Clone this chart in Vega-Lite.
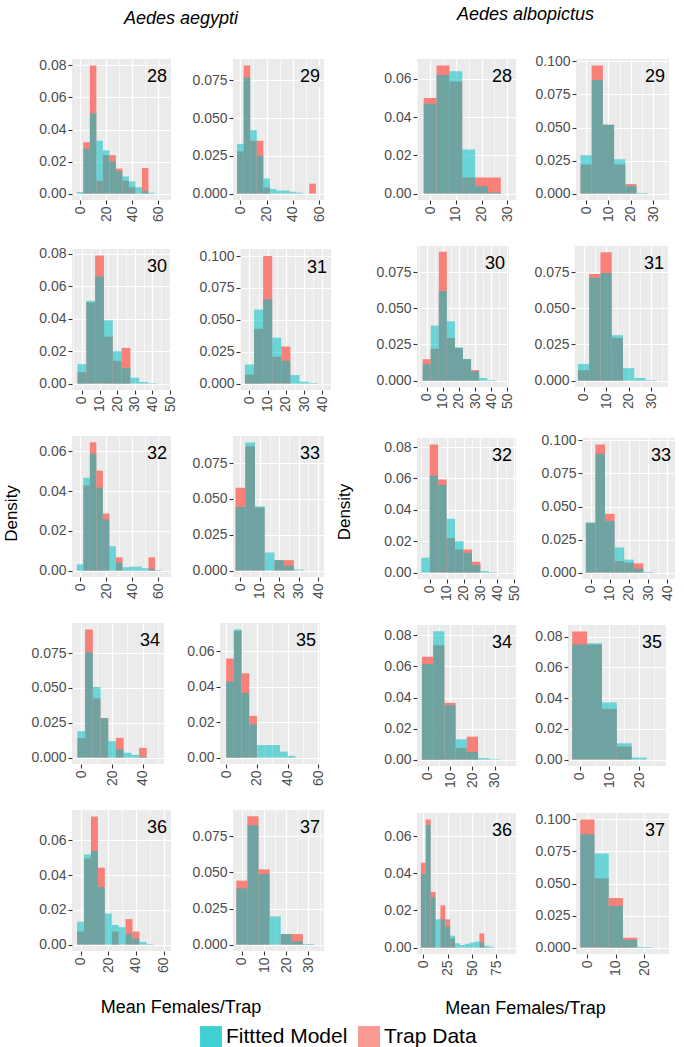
{
"$schema": "https://vega.github.io/schema/vega-lite/v6.json",
"background": "white",
"padding": {"top": 6, "left": 2, "right": 1, "bottom": 4},
"data": {"values": [
{"sp":"a","p":28,"x0":-2.5,"x1":2.5,"Fittted Model":0.001,"Trap Data":0},
{"sp":"a","p":28,"x0":2.5,"x1":7.5,"Fittted Model":0.028,"Trap Data":0.032},
{"sp":"a","p":28,"x0":7.5,"x1":12.5,"Fittted Model":0.05,"Trap Data":0.08},
{"sp":"a","p":28,"x0":12.5,"x1":17.5,"Fittted Model":0.033,"Trap Data":0.008},
{"sp":"a","p":28,"x0":17.5,"x1":22.5,"Fittted Model":0.027,"Trap Data":0.024},
{"sp":"a","p":28,"x0":22.5,"x1":27.5,"Fittted Model":0.02,"Trap Data":0.024},
{"sp":"a","p":28,"x0":27.5,"x1":32.5,"Fittted Model":0.014,"Trap Data":0.0156},
{"sp":"a","p":28,"x0":32.5,"x1":37.5,"Fittted Model":0.0107,"Trap Data":0.008},
{"sp":"a","p":28,"x0":37.5,"x1":42.5,"Fittted Model":0.0076,"Trap Data":0.004},
{"sp":"a","p":28,"x0":42.5,"x1":47.5,"Fittted Model":0.004,"Trap Data":0},
{"sp":"a","p":28,"x0":47.5,"x1":52.5,"Fittted Model":0.0015,"Trap Data":0.016},
{"sp":"a","p":28,"x0":52.5,"x1":57.5,"Fittted Model":0.0005,"Trap Data":0},
{"sp":"a","p":29,"x0":-2.5,"x1":2.5,"Fittted Model":0.033,"Trap Data":0.028},
{"sp":"a","p":29,"x0":2.5,"x1":7.5,"Fittted Model":0.077,"Trap Data":0.085},
{"sp":"a","p":29,"x0":7.5,"x1":12.5,"Fittted Model":0.042,"Trap Data":0.035},
{"sp":"a","p":29,"x0":12.5,"x1":17.5,"Fittted Model":0.025,"Trap Data":0.035},
{"sp":"a","p":29,"x0":17.5,"x1":22.5,"Fittted Model":0.01,"Trap Data":0.004},
{"sp":"a","p":29,"x0":22.5,"x1":27.5,"Fittted Model":0.003,"Trap Data":0},
{"sp":"a","p":29,"x0":27.5,"x1":32.5,"Fittted Model":0.002,"Trap Data":0},
{"sp":"a","p":29,"x0":32.5,"x1":37.5,"Fittted Model":0.002,"Trap Data":0},
{"sp":"a","p":29,"x0":37.5,"x1":42.5,"Fittted Model":0.0013,"Trap Data":0},
{"sp":"a","p":29,"x0":42.5,"x1":47.5,"Fittted Model":0.0005,"Trap Data":0},
{"sp":"a","p":29,"x0":52.5,"x1":57.5,"Fittted Model":0,"Trap Data":0.0066},
{"sp":"a","p":30,"x0":-2.5,"x1":2.5,"Fittted Model":0.012,"Trap Data":0.007},
{"sp":"a","p":30,"x0":2.5,"x1":7.5,"Fittted Model":0.051,"Trap Data":0.05},
{"sp":"a","p":30,"x0":7.5,"x1":12.5,"Fittted Model":0.066,"Trap Data":0.079},
{"sp":"a","p":30,"x0":12.5,"x1":17.5,"Fittted Model":0.039,"Trap Data":0.029},
{"sp":"a","p":30,"x0":17.5,"x1":22.5,"Fittted Model":0.02,"Trap Data":0.014},
{"sp":"a","p":30,"x0":22.5,"x1":27.5,"Fittted Model":0.0095,"Trap Data":0.022},
{"sp":"a","p":30,"x0":27.5,"x1":32.5,"Fittted Model":0.0036,"Trap Data":0},
{"sp":"a","p":30,"x0":32.5,"x1":37.5,"Fittted Model":0.001,"Trap Data":0},
{"sp":"a","p":30,"x0":37.5,"x1":42.5,"Fittted Model":0.0003,"Trap Data":0},
{"sp":"a","p":31,"x0":-2.5,"x1":2.5,"Fittted Model":0.015,"Trap Data":0.007},
{"sp":"a","p":31,"x0":2.5,"x1":7.5,"Fittted Model":0.058,"Trap Data":0.043},
{"sp":"a","p":31,"x0":7.5,"x1":12.5,"Fittted Model":0.066,"Trap Data":0.1},
{"sp":"a","p":31,"x0":12.5,"x1":17.5,"Fittted Model":0.036,"Trap Data":0.021},
{"sp":"a","p":31,"x0":17.5,"x1":22.5,"Fittted Model":0.018,"Trap Data":0.029},
{"sp":"a","p":31,"x0":22.5,"x1":27.5,"Fittted Model":0.0067,"Trap Data":0},
{"sp":"a","p":31,"x0":27.5,"x1":32.5,"Fittted Model":0.0015,"Trap Data":0},
{"sp":"a","p":31,"x0":32.5,"x1":37.5,"Fittted Model":0.0005,"Trap Data":0},
{"sp":"a","p":32,"x0":-2.5,"x1":2.5,"Fittted Model":0.0032,"Trap Data":0},
{"sp":"a","p":32,"x0":2.5,"x1":7.5,"Fittted Model":0.0467,"Trap Data":0.0428},
{"sp":"a","p":32,"x0":7.5,"x1":12.5,"Fittted Model":0.0587,"Trap Data":0.0645},
{"sp":"a","p":32,"x0":12.5,"x1":17.5,"Fittted Model":0.0417,"Trap Data":0.0503},
{"sp":"a","p":32,"x0":17.5,"x1":22.5,"Fittted Model":0.0257,"Trap Data":0.0287},
{"sp":"a","p":32,"x0":22.5,"x1":27.5,"Fittted Model":0.0123,"Trap Data":0},
{"sp":"a","p":32,"x0":27.5,"x1":32.5,"Fittted Model":0.004,"Trap Data":0.0067},
{"sp":"a","p":32,"x0":32.5,"x1":37.5,"Fittted Model":0.0017,"Trap Data":0},
{"sp":"a","p":32,"x0":37.5,"x1":42.5,"Fittted Model":0.002,"Trap Data":0},
{"sp":"a","p":32,"x0":42.5,"x1":47.5,"Fittted Model":0.002,"Trap Data":0},
{"sp":"a","p":32,"x0":47.5,"x1":52.5,"Fittted Model":0.0012,"Trap Data":0},
{"sp":"a","p":32,"x0":52.5,"x1":57.5,"Fittted Model":0.001,"Trap Data":0.0067},
{"sp":"a","p":32,"x0":57.5,"x1":62.5,"Fittted Model":0.0003,"Trap Data":0},
{"sp":"a","p":33,"x0":-2.5,"x1":2.5,"Fittted Model":0.0443,"Trap Data":0.0578},
{"sp":"a","p":33,"x0":2.5,"x1":7.5,"Fittted Model":0.0894,"Trap Data":0.0867},
{"sp":"a","p":33,"x0":7.5,"x1":12.5,"Fittted Model":0.0447,"Trap Data":0.044},
{"sp":"a","p":33,"x0":12.5,"x1":17.5,"Fittted Model":0.0126,"Trap Data":0},
{"sp":"a","p":33,"x0":17.5,"x1":22.5,"Fittted Model":0.0073,"Trap Data":0.0073},
{"sp":"a","p":33,"x0":22.5,"x1":27.5,"Fittted Model":0.0034,"Trap Data":0.0073},
{"sp":"a","p":33,"x0":27.5,"x1":32.5,"Fittted Model":0.0007,"Trap Data":0},
{"sp":"a","p":34,"x0":-2.5,"x1":2.5,"Fittted Model":0.019,"Trap Data":0.014},
{"sp":"a","p":34,"x0":2.5,"x1":7.5,"Fittted Model":0.0755,"Trap Data":0.092},
{"sp":"a","p":34,"x0":7.5,"x1":12.5,"Fittted Model":0.0507,"Trap Data":0.0425},
{"sp":"a","p":34,"x0":12.5,"x1":17.5,"Fittted Model":0.0283,"Trap Data":0.0283},
{"sp":"a","p":34,"x0":17.5,"x1":22.5,"Fittted Model":0.0118,"Trap Data":0},
{"sp":"a","p":34,"x0":22.5,"x1":27.5,"Fittted Model":0.0059,"Trap Data":0.0142},
{"sp":"a","p":34,"x0":27.5,"x1":32.5,"Fittted Model":0.0035,"Trap Data":0},
{"sp":"a","p":34,"x0":32.5,"x1":37.5,"Fittted Model":0.0019,"Trap Data":0},
{"sp":"a","p":34,"x0":37.5,"x1":42.5,"Fittted Model":0.0007,"Trap Data":0.007},
{"sp":"a","p":35,"x0":0,"x1":5,"Fittted Model":0.043,"Trap Data":0.056},
{"sp":"a","p":35,"x0":5,"x1":10,"Fittted Model":0.0725,"Trap Data":0.0716},
{"sp":"a","p":35,"x0":10,"x1":15,"Fittted Model":0.0366,"Trap Data":0.0477},
{"sp":"a","p":35,"x0":15,"x1":20,"Fittted Model":0.0187,"Trap Data":0.0236},
{"sp":"a","p":35,"x0":20,"x1":25,"Fittted Model":0.0071,"Trap Data":0},
{"sp":"a","p":35,"x0":25,"x1":30,"Fittted Model":0.0071,"Trap Data":0},
{"sp":"a","p":35,"x0":30,"x1":35,"Fittted Model":0.0071,"Trap Data":0},
{"sp":"a","p":35,"x0":35,"x1":40,"Fittted Model":0.0034,"Trap Data":0},
{"sp":"a","p":35,"x0":40,"x1":45,"Fittted Model":0.001,"Trap Data":0},
{"sp":"a","p":36,"x0":-2.5,"x1":2.5,"Fittted Model":0.0132,"Trap Data":0.0075},
{"sp":"a","p":36,"x0":2.5,"x1":7.5,"Fittted Model":0.0519,"Trap Data":0.0496},
{"sp":"a","p":36,"x0":7.5,"x1":12.5,"Fittted Model":0.054,"Trap Data":0.0738},
{"sp":"a","p":36,"x0":12.5,"x1":17.5,"Fittted Model":0.0332,"Trap Data":0.0443},
{"sp":"a","p":36,"x0":17.5,"x1":22.5,"Fittted Model":0.0179,"Trap Data":0},
{"sp":"a","p":36,"x0":22.5,"x1":27.5,"Fittted Model":0.0113,"Trap Data":0.0075},
{"sp":"a","p":36,"x0":27.5,"x1":32.5,"Fittted Model":0.01,"Trap Data":0},
{"sp":"a","p":36,"x0":32.5,"x1":37.5,"Fittted Model":0.0062,"Trap Data":0.0147},
{"sp":"a","p":36,"x0":37.5,"x1":42.5,"Fittted Model":0.0034,"Trap Data":0.0075},
{"sp":"a","p":36,"x0":42.5,"x1":47.5,"Fittted Model":0.0015,"Trap Data":0},
{"sp":"a","p":36,"x0":47.5,"x1":52.5,"Fittted Model":0.0004,"Trap Data":0},
{"sp":"a","p":37,"x0":-2.5,"x1":2.5,"Fittted Model":0.039,"Trap Data":0.0443},
{"sp":"a","p":37,"x0":2.5,"x1":7.5,"Fittted Model":0.0826,"Trap Data":0.0888},
{"sp":"a","p":37,"x0":7.5,"x1":12.5,"Fittted Model":0.0489,"Trap Data":0.0521},
{"sp":"a","p":37,"x0":12.5,"x1":17.5,"Fittted Model":0.0195,"Trap Data":0},
{"sp":"a","p":37,"x0":17.5,"x1":22.5,"Fittted Model":0.0073,"Trap Data":0.0073},
{"sp":"a","p":37,"x0":22.5,"x1":27.5,"Fittted Model":0.0023,"Trap Data":0.0073},
{"sp":"a","p":37,"x0":27.5,"x1":32.5,"Fittted Model":0.0005,"Trap Data":0},
{"sp":"b","p":28,"x0":-2.5,"x1":2.5,"Fittted Model":0.047,"Trap Data":0.05},
{"sp":"b","p":28,"x0":2.5,"x1":7.5,"Fittted Model":0.062,"Trap Data":0.067},
{"sp":"b","p":28,"x0":7.5,"x1":12.5,"Fittted Model":0.064,"Trap Data":0.0586},
{"sp":"b","p":28,"x0":12.5,"x1":17.5,"Fittted Model":0.023,"Trap Data":0.0084},
{"sp":"b","p":28,"x0":17.5,"x1":22.5,"Fittted Model":0.0038,"Trap Data":0.0084},
{"sp":"b","p":28,"x0":22.5,"x1":27.5,"Fittted Model":0.0005,"Trap Data":0.0084},
{"sp":"b","p":29,"x0":-2.5,"x1":2.5,"Fittted Model":0.029,"Trap Data":0.022},
{"sp":"b","p":29,"x0":2.5,"x1":7.5,"Fittted Model":0.086,"Trap Data":0.097},
{"sp":"b","p":29,"x0":7.5,"x1":12.5,"Fittted Model":0.052,"Trap Data":0.052},
{"sp":"b","p":29,"x0":12.5,"x1":17.5,"Fittted Model":0.026,"Trap Data":0.022},
{"sp":"b","p":29,"x0":17.5,"x1":22.5,"Fittted Model":0.0057,"Trap Data":0.0072},
{"sp":"b","p":29,"x0":22.5,"x1":27.5,"Fittted Model":0.0005,"Trap Data":0},
{"sp":"b","p":30,"x0":-2.5,"x1":2.5,"Fittted Model":0.0114,"Trap Data":0.0148},
{"sp":"b","p":30,"x0":2.5,"x1":7.5,"Fittted Model":0.038,"Trap Data":0.022},
{"sp":"b","p":30,"x0":7.5,"x1":12.5,"Fittted Model":0.062,"Trap Data":0.089},
{"sp":"b","p":30,"x0":12.5,"x1":17.5,"Fittted Model":0.041,"Trap Data":0.0295},
{"sp":"b","p":30,"x0":17.5,"x1":22.5,"Fittted Model":0.023,"Trap Data":0.0225},
{"sp":"b","p":30,"x0":22.5,"x1":27.5,"Fittted Model":0.015,"Trap Data":0.0148},
{"sp":"b","p":30,"x0":27.5,"x1":32.5,"Fittted Model":0.0064,"Trap Data":0.0073},
{"sp":"b","p":30,"x0":32.5,"x1":37.5,"Fittted Model":0.0018,"Trap Data":0},
{"sp":"b","p":30,"x0":37.5,"x1":42.5,"Fittted Model":0.0004,"Trap Data":0},
{"sp":"b","p":31,"x0":-2.5,"x1":2.5,"Fittted Model":0.0114,"Trap Data":0.0073},
{"sp":"b","p":31,"x0":2.5,"x1":7.5,"Fittted Model":0.071,"Trap Data":0.0736},
{"sp":"b","p":31,"x0":7.5,"x1":12.5,"Fittted Model":0.0743,"Trap Data":0.0886},
{"sp":"b","p":31,"x0":12.5,"x1":17.5,"Fittted Model":0.0314,"Trap Data":0.0295},
{"sp":"b","p":31,"x0":17.5,"x1":22.5,"Fittted Model":0.0086,"Trap Data":0},
{"sp":"b","p":31,"x0":22.5,"x1":27.5,"Fittted Model":0.0018,"Trap Data":0},
{"sp":"b","p":31,"x0":27.5,"x1":32.5,"Fittted Model":0.0004,"Trap Data":0},
{"sp":"b","p":32,"x0":-5,"x1":0,"Fittted Model":0.0095,"Trap Data":0},
{"sp":"b","p":32,"x0":0,"x1":5,"Fittted Model":0.0617,"Trap Data":0.0817},
{"sp":"b","p":32,"x0":5,"x1":10,"Fittted Model":0.0558,"Trap Data":0.0594},
{"sp":"b","p":32,"x0":10,"x1":15,"Fittted Model":0.0343,"Trap Data":0.0221},
{"sp":"b","p":32,"x0":15,"x1":20,"Fittted Model":0.02,"Trap Data":0.0147},
{"sp":"b","p":32,"x0":20,"x1":25,"Fittted Model":0.0126,"Trap Data":0.0147},
{"sp":"b","p":32,"x0":25,"x1":30,"Fittted Model":0.0048,"Trap Data":0.0069},
{"sp":"b","p":32,"x0":30,"x1":35,"Fittted Model":0.001,"Trap Data":0},
{"sp":"b","p":32,"x0":35,"x1":40,"Fittted Model":0.0003,"Trap Data":0},
{"sp":"b","p":33,"x0":-2.5,"x1":2.5,"Fittted Model":0.038,"Trap Data":0.0375},
{"sp":"b","p":33,"x0":2.5,"x1":7.5,"Fittted Model":0.09,"Trap Data":0.097},
{"sp":"b","p":33,"x0":7.5,"x1":12.5,"Fittted Model":0.039,"Trap Data":0.0445},
{"sp":"b","p":33,"x0":12.5,"x1":17.5,"Fittted Model":0.019,"Trap Data":0.0088},
{"sp":"b","p":33,"x0":17.5,"x1":22.5,"Fittted Model":0.0098,"Trap Data":0.0075},
{"sp":"b","p":33,"x0":22.5,"x1":27.5,"Fittted Model":0.003,"Trap Data":0.007},
{"sp":"b","p":33,"x0":27.5,"x1":32.5,"Fittted Model":0.0005,"Trap Data":0},
{"sp":"b","p":34,"x0":-2.5,"x1":2.5,"Fittted Model":0.0616,"Trap Data":0.0662},
{"sp":"b","p":34,"x0":2.5,"x1":7.5,"Fittted Model":0.0826,"Trap Data":0.0737},
{"sp":"b","p":34,"x0":7.5,"x1":12.5,"Fittted Model":0.0351,"Trap Data":0.0366},
{"sp":"b","p":34,"x0":12.5,"x1":17.5,"Fittted Model":0.0131,"Trap Data":0.0074},
{"sp":"b","p":34,"x0":17.5,"x1":22.5,"Fittted Model":0.0049,"Trap Data":0.0148},
{"sp":"b","p":34,"x0":22.5,"x1":27.5,"Fittted Model":0.001,"Trap Data":0},
{"sp":"b","p":34,"x0":27.5,"x1":32.5,"Fittted Model":0.0003,"Trap Data":0},
{"sp":"b","p":35,"x0":-2.5,"x1":2.5,"Fittted Model":0.0749,"Trap Data":0.0834},
{"sp":"b","p":35,"x0":2.5,"x1":7.5,"Fittted Model":0.0757,"Trap Data":0.0749},
{"sp":"b","p":35,"x0":7.5,"x1":12.5,"Fittted Model":0.0372,"Trap Data":0.033},
{"sp":"b","p":35,"x0":12.5,"x1":17.5,"Fittted Model":0.0106,"Trap Data":0.0085},
{"sp":"b","p":35,"x0":17.5,"x1":22.5,"Fittted Model":0.0013,"Trap Data":0},
{"sp":"b","p":36,"x0":-2.5,"x1":2.5,"Fittted Model":0.0395,"Trap Data":0.0457},
{"sp":"b","p":36,"x0":2.5,"x1":7.5,"Fittted Model":0.066,"Trap Data":0.069},
{"sp":"b","p":36,"x0":7.5,"x1":12.5,"Fittted Model":0.027,"Trap Data":0.03},
{"sp":"b","p":36,"x0":12.5,"x1":17.5,"Fittted Model":0.0152,"Trap Data":0},
{"sp":"b","p":36,"x0":17.5,"x1":22.5,"Fittted Model":0.0152,"Trap Data":0.0227},
{"sp":"b","p":36,"x0":22.5,"x1":27.5,"Fittted Model":0.0112,"Trap Data":0.0152},
{"sp":"b","p":36,"x0":27.5,"x1":32.5,"Fittted Model":0.0064,"Trap Data":0.005},
{"sp":"b","p":36,"x0":32.5,"x1":37.5,"Fittted Model":0.0023,"Trap Data":0},
{"sp":"b","p":36,"x0":37.5,"x1":42.5,"Fittted Model":0.0014,"Trap Data":0},
{"sp":"b","p":36,"x0":42.5,"x1":47.5,"Fittted Model":0.002,"Trap Data":0},
{"sp":"b","p":36,"x0":47.5,"x1":52.5,"Fittted Model":0.0027,"Trap Data":0},
{"sp":"b","p":36,"x0":52.5,"x1":57.5,"Fittted Model":0.0032,"Trap Data":0},
{"sp":"b","p":36,"x0":57.5,"x1":62.5,"Fittted Model":0.0028,"Trap Data":0.0076},
{"sp":"b","p":36,"x0":62.5,"x1":67.5,"Fittted Model":0.001,"Trap Data":0},
{"sp":"b","p":36,"x0":67.5,"x1":72.5,"Fittted Model":0.0005,"Trap Data":0},
{"sp":"b","p":37,"x0":-2.5,"x1":2.5,"Fittted Model":0.0884,"Trap Data":0.1},
{"sp":"b","p":37,"x0":2.5,"x1":7.5,"Fittted Model":0.0735,"Trap Data":0.054},
{"sp":"b","p":37,"x0":7.5,"x1":12.5,"Fittted Model":0.0325,"Trap Data":0.0387},
{"sp":"b","p":37,"x0":12.5,"x1":17.5,"Fittted Model":0.0059,"Trap Data":0.0077},
{"sp":"b","p":37,"x0":17.5,"x1":22.5,"Fittted Model":0.0005,"Trap Data":0}
]},
"hconcat": [
{"title": {"text": "Density", "orient": "left", "anchor": "middle", "fontSize": 17, "offset": 10},
 "vconcat": [{
  "title": {"text": "Aedes aegypti", "fontStyle": "italic", "fontSize": 18, "anchor": "middle", "offset": 30},
  "vconcat": [{
   "title": {"text": "Mean Females/Trap", "orient": "bottom", "anchor": "middle", "fontSize": 18, "offset": 26},
   "spacing": 24,
   "vconcat": [
    {"spacing": 20, "hconcat": [
     {"width":99,"height":141,"transform":[{"filter":"datum.sp=='a' && datum.p==28"},{"fold":["Trap Data","Fittted Model"],"as":["s","d"]}],"resolve":{"axis":{"y":"independent"}},"layer":[{"mark":{"type":"rect"},"encoding":{"x":{"field":"x0","type":"quantitative","title":null,"scale":{"domain":[-6.2,69.8],"nice":false,"zero":false},"axis":{"values":[0,10,20,30,40,50,60],"format":"d","labelOverlap":false,"labelExpr":"datum.value % 20 == 0 ? datum.label : ''","tickOpacity":{"condition":{"test":"datum.value % 20 != 0","value":0},"value":1},"gridWidth":{"condition":{"test":"datum.value % 20 != 0","value":0.6},"value":1.2}}},"x2":{"field":"x1"},"y":{"field":"d","type":"quantitative","title":null,"scale":{"domain":[-0.004,0.084],"nice":false,"zero":false},"axis":{"values":[0,0.02,0.04,0.06,0.08],"format":".2f","labelOverlap":false,"gridWidth":1.2}},"y2":{"datum":0},"color":{"field":"s","type":"nominal","title":null},"opacity":{"field":"s","type":"nominal","scale":{"domain":["Fittted Model","Trap Data"],"range":[0.55,0.9]},"legend":null}}},{"mark":{"type":"text","align":"right","baseline":"top","dx":-4,"dy":3,"fontSize":18,"color":"black"},"encoding":{"x":{"value":"width"},"y":{"aggregate":"max","field":"d","type":"quantitative","title":null,"axis":{"orient":"right","values":[0.01,0.03,0.05,0.07],"labels":false,"ticks":false,"domain":false,"gridWidth":0.6}},"text":{"field":"p","type":"nominal"}}}]},
     {"width":91,"height":141,"transform":[{"filter":"datum.sp=='a' && datum.p==29"},{"fold":["Trap Data","Fittted Model"],"as":["s","d"]}],"resolve":{"axis":{"y":"independent"}},"layer":[{"mark":{"type":"rect"},"encoding":{"x":{"field":"x0","type":"quantitative","title":null,"scale":{"domain":[-5.6,63.7],"nice":false,"zero":false},"axis":{"values":[0,10,20,30,40,50,60],"format":"d","labelOverlap":false,"labelExpr":"datum.value % 20 == 0 ? datum.label : ''","tickOpacity":{"condition":{"test":"datum.value % 20 != 0","value":0},"value":1},"gridWidth":{"condition":{"test":"datum.value % 20 != 0","value":0.6},"value":1.2}}},"x2":{"field":"x1"},"y":{"field":"d","type":"quantitative","title":null,"scale":{"domain":[-0.00425,0.08925],"nice":false,"zero":false},"axis":{"values":[0,0.025,0.05,0.075],"format":".3f","labelOverlap":false,"gridWidth":1.2}},"y2":{"datum":0},"color":{"field":"s","type":"nominal","title":null},"opacity":{"field":"s","type":"nominal","scale":{"domain":["Fittted Model","Trap Data"],"range":[0.55,0.9]},"legend":null}}},{"mark":{"type":"text","align":"right","baseline":"top","dx":-4,"dy":3,"fontSize":18,"color":"black"},"encoding":{"x":{"value":"width"},"y":{"aggregate":"max","field":"d","type":"quantitative","title":null,"axis":{"orient":"right","values":[0.0125,0.0375,0.0625,0.0875],"labels":false,"ticks":false,"domain":false,"gridWidth":0.6}},"text":{"field":"p","type":"nominal"}}}]}
    ]},
    {"spacing": 20, "hconcat": [
     {"width":99,"height":141,"transform":[{"filter":"datum.sp=='a' && datum.p==30"},{"fold":["Trap Data","Fittted Model"],"as":["s","d"]}],"resolve":{"axis":{"y":"independent"}},"layer":[{"mark":{"type":"rect"},"encoding":{"x":{"field":"x0","type":"quantitative","title":null,"scale":{"domain":[-5.6,50.5],"nice":false,"zero":false},"axis":{"values":[-5,0,5,10,15,20,25,30,35,40,45,50],"format":"d","labelOverlap":false,"labelExpr":"datum.value % 10 == 0 ? datum.label : ''","tickOpacity":{"condition":{"test":"datum.value % 10 != 0","value":0},"value":1},"gridWidth":{"condition":{"test":"datum.value % 10 != 0","value":0.6},"value":1.2}}},"x2":{"field":"x1"},"y":{"field":"d","type":"quantitative","title":null,"scale":{"domain":[-0.00395,0.08295],"nice":false,"zero":false},"axis":{"values":[0,0.02,0.04,0.06,0.08],"format":".2f","labelOverlap":false,"gridWidth":1.2}},"y2":{"datum":0},"color":{"field":"s","type":"nominal","title":null},"opacity":{"field":"s","type":"nominal","scale":{"domain":["Fittted Model","Trap Data"],"range":[0.55,0.9]},"legend":null}}},{"mark":{"type":"text","align":"right","baseline":"top","dx":-4,"dy":3,"fontSize":18,"color":"black"},"encoding":{"x":{"value":"width"},"y":{"aggregate":"max","field":"d","type":"quantitative","title":null,"axis":{"orient":"right","values":[0.01,0.03,0.05,0.07],"labels":false,"ticks":false,"domain":false,"gridWidth":0.6}},"text":{"field":"p","type":"nominal"}}}]},
     {"width":91,"height":141,"transform":[{"filter":"datum.sp=='a' && datum.p==31"},{"fold":["Trap Data","Fittted Model"],"as":["s","d"]}],"resolve":{"axis":{"y":"independent"}},"layer":[{"mark":{"type":"rect"},"encoding":{"x":{"field":"x0","type":"quantitative","title":null,"scale":{"domain":[-5.2,44.8],"nice":false,"zero":false},"axis":{"values":[-5,0,5,10,15,20,25,30,35,40],"format":"d","labelOverlap":false,"labelExpr":"datum.value % 10 == 0 ? datum.label : ''","tickOpacity":{"condition":{"test":"datum.value % 10 != 0","value":0},"value":1},"gridWidth":{"condition":{"test":"datum.value % 10 != 0","value":0.6},"value":1.2}}},"x2":{"field":"x1"},"y":{"field":"d","type":"quantitative","title":null,"scale":{"domain":[-0.005,0.1055],"nice":false,"zero":false},"axis":{"values":[0,0.025,0.05,0.075,0.1],"format":".3f","labelOverlap":false,"gridWidth":1.2}},"y2":{"datum":0},"color":{"field":"s","type":"nominal","title":null},"opacity":{"field":"s","type":"nominal","scale":{"domain":["Fittted Model","Trap Data"],"range":[0.55,0.9]},"legend":null}}},{"mark":{"type":"text","align":"right","baseline":"top","dx":-4,"dy":3,"fontSize":18,"color":"black"},"encoding":{"x":{"value":"width"},"y":{"aggregate":"max","field":"d","type":"quantitative","title":null,"axis":{"orient":"right","values":[0.0125,0.0375,0.0625,0.0875],"labels":false,"ticks":false,"domain":false,"gridWidth":0.6}},"text":{"field":"p","type":"nominal"}}}]}
    ]},
    {"spacing": 20, "hconcat": [
     {"width":99,"height":141,"transform":[{"filter":"datum.sp=='a' && datum.p==32"},{"fold":["Trap Data","Fittted Model"],"as":["s","d"]}],"resolve":{"axis":{"y":"independent"}},"layer":[{"mark":{"type":"rect"},"encoding":{"x":{"field":"x0","type":"quantitative","title":null,"scale":{"domain":[-6.2,69.8],"nice":false,"zero":false},"axis":{"values":[0,10,20,30,40,50,60],"format":"d","labelOverlap":false,"labelExpr":"datum.value % 20 == 0 ? datum.label : ''","tickOpacity":{"condition":{"test":"datum.value % 20 != 0","value":0},"value":1},"gridWidth":{"condition":{"test":"datum.value % 20 != 0","value":0.6},"value":1.2}}},"x2":{"field":"x1"},"y":{"field":"d","type":"quantitative","title":null,"scale":{"domain":[-0.0032,0.0677],"nice":false,"zero":false},"axis":{"values":[0,0.02,0.04,0.06],"format":".2f","labelOverlap":false,"gridWidth":1.2}},"y2":{"datum":0},"color":{"field":"s","type":"nominal","title":null},"opacity":{"field":"s","type":"nominal","scale":{"domain":["Fittted Model","Trap Data"],"range":[0.55,0.9]},"legend":null}}},{"mark":{"type":"text","align":"right","baseline":"top","dx":-4,"dy":3,"fontSize":18,"color":"black"},"encoding":{"x":{"value":"width"},"y":{"aggregate":"max","field":"d","type":"quantitative","title":null,"axis":{"orient":"right","values":[0.01,0.03,0.05],"labels":false,"ticks":false,"domain":false,"gridWidth":0.6}},"text":{"field":"p","type":"nominal"}}}]},
     {"width":91,"height":141,"transform":[{"filter":"datum.sp=='a' && datum.p==33"},{"fold":["Trap Data","Fittted Model"],"as":["s","d"]}],"resolve":{"axis":{"y":"independent"}},"layer":[{"mark":{"type":"rect"},"encoding":{"x":{"field":"x0","type":"quantitative","title":null,"scale":{"domain":[-3.8,43],"nice":false,"zero":false},"axis":{"values":[0,5,10,15,20,25,30,35,40],"format":"d","labelOverlap":false,"labelExpr":"datum.value % 10 == 0 ? datum.label : ''","tickOpacity":{"condition":{"test":"datum.value % 10 != 0","value":0},"value":1},"gridWidth":{"condition":{"test":"datum.value % 10 != 0","value":0.6},"value":1.2}}},"x2":{"field":"x1"},"y":{"field":"d","type":"quantitative","title":null,"scale":{"domain":[-0.0045,0.0939],"nice":false,"zero":false},"axis":{"values":[0,0.025,0.05,0.075],"format":".3f","labelOverlap":false,"gridWidth":1.2}},"y2":{"datum":0},"color":{"field":"s","type":"nominal","title":null},"opacity":{"field":"s","type":"nominal","scale":{"domain":["Fittted Model","Trap Data"],"range":[0.55,0.9]},"legend":null}}},{"mark":{"type":"text","align":"right","baseline":"top","dx":-4,"dy":3,"fontSize":18,"color":"black"},"encoding":{"x":{"value":"width"},"y":{"aggregate":"max","field":"d","type":"quantitative","title":null,"axis":{"orient":"right","values":[0.0125,0.0375,0.0625,0.0875],"labels":false,"ticks":false,"domain":false,"gridWidth":0.6}},"text":{"field":"p","type":"nominal"}}}]}
    ]},
    {"spacing": 20, "hconcat": [
     {"width":92,"height":141,"transform":[{"filter":"datum.sp=='a' && datum.p==34"},{"fold":["Trap Data","Fittted Model"],"as":["s","d"]}],"resolve":{"axis":{"y":"independent"}},"layer":[{"mark":{"type":"rect"},"encoding":{"x":{"field":"x0","type":"quantitative","title":null,"scale":{"domain":[-6,53.7],"nice":false,"zero":false},"axis":{"values":[0,10,20,30,40,50],"format":"d","labelOverlap":false,"labelExpr":"datum.value % 20 == 0 ? datum.label : ''","tickOpacity":{"condition":{"test":"datum.value % 20 != 0","value":0},"value":1},"gridWidth":{"condition":{"test":"datum.value % 20 != 0","value":0.6},"value":1.2}}},"x2":{"field":"x1"},"y":{"field":"d","type":"quantitative","title":null,"scale":{"domain":[-0.0046,0.0966],"nice":false,"zero":false},"axis":{"values":[0,0.025,0.05,0.075],"format":".3f","labelOverlap":false,"gridWidth":1.2}},"y2":{"datum":0},"color":{"field":"s","type":"nominal","title":null},"opacity":{"field":"s","type":"nominal","scale":{"domain":["Fittted Model","Trap Data"],"range":[0.55,0.9]},"legend":null}}},{"mark":{"type":"text","align":"right","baseline":"top","dx":-4,"dy":3,"fontSize":18,"color":"black"},"encoding":{"x":{"value":"width"},"y":{"aggregate":"max","field":"d","type":"quantitative","title":null,"axis":{"orient":"right","values":[0.0125,0.0375,0.0625,0.0875],"labels":false,"ticks":false,"domain":false,"gridWidth":0.6}},"text":{"field":"p","type":"nominal"}}}]},
     {"width":100,"height":141,"transform":[{"filter":"datum.sp=='a' && datum.p==35"},{"fold":["Trap Data","Fittted Model"],"as":["s","d"]}],"resolve":{"axis":{"y":"independent"}},"layer":[{"mark":{"type":"rect"},"encoding":{"x":{"field":"x0","type":"quantitative","title":null,"scale":{"domain":[-4,61],"nice":false,"zero":false},"axis":{"values":[0,10,20,30,40,50,60],"format":"d","labelOverlap":false,"labelExpr":"datum.value % 20 == 0 ? datum.label : ''","tickOpacity":{"condition":{"test":"datum.value % 20 != 0","value":0},"value":1},"gridWidth":{"condition":{"test":"datum.value % 20 != 0","value":0.6},"value":1.2}}},"x2":{"field":"x1"},"y":{"field":"d","type":"quantitative","title":null,"scale":{"domain":[-0.0036,0.0761],"nice":false,"zero":false},"axis":{"values":[0,0.02,0.04,0.06],"format":".2f","labelOverlap":false,"gridWidth":1.2}},"y2":{"datum":0},"color":{"field":"s","type":"nominal","title":null},"opacity":{"field":"s","type":"nominal","scale":{"domain":["Fittted Model","Trap Data"],"range":[0.55,0.9]},"legend":null}}},{"mark":{"type":"text","align":"right","baseline":"top","dx":-4,"dy":3,"fontSize":18,"color":"black"},"encoding":{"x":{"value":"width"},"y":{"aggregate":"max","field":"d","type":"quantitative","title":null,"axis":{"orient":"right","values":[0.01,0.03,0.05,0.07],"labels":false,"ticks":false,"domain":false,"gridWidth":0.6}},"text":{"field":"p","type":"nominal"}}}]}
    ]},
    {"spacing": 20, "hconcat": [
     {"width":99,"height":141,"transform":[{"filter":"datum.sp=='a' && datum.p==36"},{"fold":["Trap Data","Fittted Model"],"as":["s","d"]}],"resolve":{"axis":{"y":"independent"}},"layer":[{"mark":{"type":"rect"},"encoding":{"x":{"field":"x0","type":"quantitative","title":null,"scale":{"domain":[-6.2,65.3],"nice":false,"zero":false},"axis":{"values":[0,10,20,30,40,50,60],"format":"d","labelOverlap":false,"labelExpr":"datum.value % 20 == 0 ? datum.label : ''","tickOpacity":{"condition":{"test":"datum.value % 20 != 0","value":0},"value":1},"gridWidth":{"condition":{"test":"datum.value % 20 != 0","value":0.6},"value":1.2}}},"x2":{"field":"x1"},"y":{"field":"d","type":"quantitative","title":null,"scale":{"domain":[-0.0037,0.0775],"nice":false,"zero":false},"axis":{"values":[0,0.02,0.04,0.06],"format":".2f","labelOverlap":false,"gridWidth":1.2}},"y2":{"datum":0},"color":{"field":"s","type":"nominal","title":null},"opacity":{"field":"s","type":"nominal","scale":{"domain":["Fittted Model","Trap Data"],"range":[0.55,0.9]},"legend":null}}},{"mark":{"type":"text","align":"right","baseline":"top","dx":-4,"dy":3,"fontSize":18,"color":"black"},"encoding":{"x":{"value":"width"},"y":{"aggregate":"max","field":"d","type":"quantitative","title":null,"axis":{"orient":"right","values":[0.01,0.03,0.05,0.07],"labels":false,"ticks":false,"domain":false,"gridWidth":0.6}},"text":{"field":"p","type":"nominal"}}}]},
     {"width":91,"height":141,"transform":[{"filter":"datum.sp=='a' && datum.p==37"},{"fold":["Trap Data","Fittted Model"],"as":["s","d"]}],"resolve":{"axis":{"y":"independent"}},"layer":[{"mark":{"type":"rect"},"encoding":{"x":{"field":"x0","type":"quantitative","title":null,"scale":{"domain":[-4,37],"nice":false,"zero":false},"axis":{"values":[0,5,10,15,20,25,30,35],"format":"d","labelOverlap":false,"labelExpr":"datum.value % 10 == 0 ? datum.label : ''","tickOpacity":{"condition":{"test":"datum.value % 10 != 0","value":0},"value":1},"gridWidth":{"condition":{"test":"datum.value % 10 != 0","value":0.6},"value":1.2}}},"x2":{"field":"x1"},"y":{"field":"d","type":"quantitative","title":null,"scale":{"domain":[-0.0044,0.0932],"nice":false,"zero":false},"axis":{"values":[0,0.025,0.05,0.075],"format":".3f","labelOverlap":false,"gridWidth":1.2}},"y2":{"datum":0},"color":{"field":"s","type":"nominal","title":null},"opacity":{"field":"s","type":"nominal","scale":{"domain":["Fittted Model","Trap Data"],"range":[0.55,0.9]},"legend":null}}},{"mark":{"type":"text","align":"right","baseline":"top","dx":-4,"dy":3,"fontSize":18,"color":"black"},"encoding":{"x":{"value":"width"},"y":{"aggregate":"max","field":"d","type":"quantitative","title":null,"axis":{"orient":"right","values":[0.0125,0.0375,0.0625,0.0875],"labels":false,"ticks":false,"domain":false,"gridWidth":0.6}},"text":{"field":"p","type":"nominal"}}}]}
    ]}
   ]
  }]
 }]
},
{"title": {"text": "Density", "orient": "left", "anchor": "middle", "fontSize": 17, "offset": 22},
 "vconcat": [{
  "title": {"text": "Aedes albopictus", "fontStyle": "italic", "fontSize": 18, "anchor": "middle", "offset": 30},
  "vconcat": [{
   "title": {"text": "Mean Females/Trap", "orient": "bottom", "anchor": "middle", "fontSize": 18, "offset": 24},
   "spacing": 24,
   "vconcat": [
    {"spacing": 18, "hconcat": [
     {"width":99,"height":141,"transform":[{"filter":"datum.sp=='b' && datum.p==28"},{"fold":["Trap Data","Fittted Model"],"as":["s","d"]}],"resolve":{"axis":{"y":"independent"}},"layer":[{"mark":{"type":"rect"},"encoding":{"x":{"field":"x0","type":"quantitative","title":null,"scale":{"domain":[-5.1,33.4],"nice":false,"zero":false},"axis":{"values":[-5,0,5,10,15,20,25,30],"format":"d","labelOverlap":false,"labelExpr":"datum.value % 10 == 0 ? datum.label : ''","tickOpacity":{"condition":{"test":"datum.value % 10 != 0","value":0},"value":1},"gridWidth":{"condition":{"test":"datum.value % 10 != 0","value":0.6},"value":1.2}}},"x2":{"field":"x1"},"y":{"field":"d","type":"quantitative","title":null,"scale":{"domain":[-0.0034,0.0704],"nice":false,"zero":false},"axis":{"values":[0,0.02,0.04,0.06],"format":".2f","labelOverlap":false,"gridWidth":1.2}},"y2":{"datum":0},"color":{"field":"s","type":"nominal","title":null},"opacity":{"field":"s","type":"nominal","scale":{"domain":["Fittted Model","Trap Data"],"range":[0.55,0.9]},"legend":null}}},{"mark":{"type":"text","align":"right","baseline":"top","dx":-4,"dy":3,"fontSize":18,"color":"black"},"encoding":{"x":{"value":"width"},"y":{"aggregate":"max","field":"d","type":"quantitative","title":null,"axis":{"orient":"right","values":[0.01,0.03,0.05,0.07],"labels":false,"ticks":false,"domain":false,"gridWidth":0.6}},"text":{"field":"p","type":"nominal"}}}]},
     {"width":93,"height":141,"transform":[{"filter":"datum.sp=='b' && datum.p==29"},{"fold":["Trap Data","Fittted Model"],"as":["s","d"]}],"resolve":{"axis":{"y":"independent"}},"layer":[{"mark":{"type":"rect"},"encoding":{"x":{"field":"x0","type":"quantitative","title":null,"scale":{"domain":[-4.5,37],"nice":false,"zero":false},"axis":{"values":[0,5,10,15,20,25,30,35],"format":"d","labelOverlap":false,"labelExpr":"datum.value % 10 == 0 ? datum.label : ''","tickOpacity":{"condition":{"test":"datum.value % 10 != 0","value":0},"value":1},"gridWidth":{"condition":{"test":"datum.value % 10 != 0","value":0.6},"value":1.2}}},"x2":{"field":"x1"},"y":{"field":"d","type":"quantitative","title":null,"scale":{"domain":[-0.00485,0.10185],"nice":false,"zero":false},"axis":{"values":[0,0.025,0.05,0.075,0.1],"format":".3f","labelOverlap":false,"gridWidth":1.2}},"y2":{"datum":0},"color":{"field":"s","type":"nominal","title":null},"opacity":{"field":"s","type":"nominal","scale":{"domain":["Fittted Model","Trap Data"],"range":[0.55,0.9]},"legend":null}}},{"mark":{"type":"text","align":"right","baseline":"top","dx":-4,"dy":3,"fontSize":18,"color":"black"},"encoding":{"x":{"value":"width"},"y":{"aggregate":"max","field":"d","type":"quantitative","title":null,"axis":{"orient":"right","values":[0.0125,0.0375,0.0625,0.0875],"labels":false,"ticks":false,"domain":false,"gridWidth":0.6}},"text":{"field":"p","type":"nominal"}}}]}
    ]},
    {"spacing": 18, "hconcat": [
     {"width":92,"height":141,"transform":[{"filter":"datum.sp=='b' && datum.p==30"},{"fold":["Trap Data","Fittted Model"],"as":["s","d"]}],"resolve":{"axis":{"y":"independent"}},"layer":[{"mark":{"type":"rect"},"encoding":{"x":{"field":"x0","type":"quantitative","title":null,"scale":{"domain":[-6,51],"nice":false,"zero":false},"axis":{"values":[-5,0,5,10,15,20,25,30,35,40,45,50],"format":"d","labelOverlap":false,"labelExpr":"datum.value % 10 == 0 ? datum.label : ''","tickOpacity":{"condition":{"test":"datum.value % 10 != 0","value":0},"value":1},"gridWidth":{"condition":{"test":"datum.value % 10 != 0","value":0.6},"value":1.2}}},"x2":{"field":"x1"},"y":{"field":"d","type":"quantitative","title":null,"scale":{"domain":[-0.0044,0.093],"nice":false,"zero":false},"axis":{"values":[0,0.025,0.05,0.075],"format":".3f","labelOverlap":false,"gridWidth":1.2}},"y2":{"datum":0},"color":{"field":"s","type":"nominal","title":null},"opacity":{"field":"s","type":"nominal","scale":{"domain":["Fittted Model","Trap Data"],"range":[0.55,0.9]},"legend":null}}},{"mark":{"type":"text","align":"right","baseline":"top","dx":-4,"dy":3,"fontSize":18,"color":"black"},"encoding":{"x":{"value":"width"},"y":{"aggregate":"max","field":"d","type":"quantitative","title":null,"axis":{"orient":"right","values":[0.0125,0.0375,0.0625,0.0875],"labels":false,"ticks":false,"domain":false,"gridWidth":0.6}},"text":{"field":"p","type":"nominal"}}}]},
     {"width":93,"height":141,"transform":[{"filter":"datum.sp=='b' && datum.p==31"},{"fold":["Trap Data","Fittted Model"],"as":["s","d"]}],"resolve":{"axis":{"y":"independent"}},"layer":[{"mark":{"type":"rect"},"encoding":{"x":{"field":"x0","type":"quantitative","title":null,"scale":{"domain":[-3.8,37.5],"nice":false,"zero":false},"axis":{"values":[0,5,10,15,20,25,30,35],"format":"d","labelOverlap":false,"labelExpr":"datum.value % 10 == 0 ? datum.label : ''","tickOpacity":{"condition":{"test":"datum.value % 10 != 0","value":0},"value":1},"gridWidth":{"condition":{"test":"datum.value % 10 != 0","value":0.6},"value":1.2}}},"x2":{"field":"x1"},"y":{"field":"d","type":"quantitative","title":null,"scale":{"domain":[-0.0044,0.093],"nice":false,"zero":false},"axis":{"values":[0,0.025,0.05,0.075],"format":".3f","labelOverlap":false,"gridWidth":1.2}},"y2":{"datum":0},"color":{"field":"s","type":"nominal","title":null},"opacity":{"field":"s","type":"nominal","scale":{"domain":["Fittted Model","Trap Data"],"range":[0.55,0.9]},"legend":null}}},{"mark":{"type":"text","align":"right","baseline":"top","dx":-4,"dy":3,"fontSize":18,"color":"black"},"encoding":{"x":{"value":"width"},"y":{"aggregate":"max","field":"d","type":"quantitative","title":null,"axis":{"orient":"right","values":[0.0125,0.0375,0.0625,0.0875],"labels":false,"ticks":false,"domain":false,"gridWidth":0.6}},"text":{"field":"p","type":"nominal"}}}]}
    ]},
    {"spacing": 18, "hconcat": [
     {"width":99,"height":141,"transform":[{"filter":"datum.sp=='b' && datum.p==32"},{"fold":["Trap Data","Fittted Model"],"as":["s","d"]}],"resolve":{"axis":{"y":"independent"}},"layer":[{"mark":{"type":"rect"},"encoding":{"x":{"field":"x0","type":"quantitative","title":null,"scale":{"domain":[-7.5,51],"nice":false,"zero":false},"axis":{"values":[-5,0,5,10,15,20,25,30,35,40,45,50],"format":"d","labelOverlap":false,"labelExpr":"datum.value % 10 == 0 ? datum.label : ''","tickOpacity":{"condition":{"test":"datum.value % 10 != 0","value":0},"value":1},"gridWidth":{"condition":{"test":"datum.value % 10 != 0","value":0.6},"value":1.2}}},"x2":{"field":"x1"},"y":{"field":"d","type":"quantitative","title":null,"scale":{"domain":[-0.0041,0.0858],"nice":false,"zero":false},"axis":{"values":[0,0.02,0.04,0.06,0.08],"format":".2f","labelOverlap":false,"gridWidth":1.2}},"y2":{"datum":0},"color":{"field":"s","type":"nominal","title":null},"opacity":{"field":"s","type":"nominal","scale":{"domain":["Fittted Model","Trap Data"],"range":[0.55,0.9]},"legend":null}}},{"mark":{"type":"text","align":"right","baseline":"top","dx":-4,"dy":3,"fontSize":18,"color":"black"},"encoding":{"x":{"value":"width"},"y":{"aggregate":"max","field":"d","type":"quantitative","title":null,"axis":{"orient":"right","values":[0.01,0.03,0.05,0.07],"labels":false,"ticks":false,"domain":false,"gridWidth":0.6}},"text":{"field":"p","type":"nominal"}}}]},
     {"width":93,"height":141,"transform":[{"filter":"datum.sp=='b' && datum.p==33"},{"fold":["Trap Data","Fittted Model"],"as":["s","d"]}],"resolve":{"axis":{"y":"independent"}},"layer":[{"mark":{"type":"rect"},"encoding":{"x":{"field":"x0","type":"quantitative","title":null,"scale":{"domain":[-4.5,44],"nice":false,"zero":false},"axis":{"values":[0,5,10,15,20,25,30,35,40],"format":"d","labelOverlap":false,"labelExpr":"datum.value % 10 == 0 ? datum.label : ''","tickOpacity":{"condition":{"test":"datum.value % 10 != 0","value":0},"value":1},"gridWidth":{"condition":{"test":"datum.value % 10 != 0","value":0.6},"value":1.2}}},"x2":{"field":"x1"},"y":{"field":"d","type":"quantitative","title":null,"scale":{"domain":[-0.00485,0.10185],"nice":false,"zero":false},"axis":{"values":[0,0.025,0.05,0.075,0.1],"format":".3f","labelOverlap":false,"gridWidth":1.2}},"y2":{"datum":0},"color":{"field":"s","type":"nominal","title":null},"opacity":{"field":"s","type":"nominal","scale":{"domain":["Fittted Model","Trap Data"],"range":[0.55,0.9]},"legend":null}}},{"mark":{"type":"text","align":"right","baseline":"top","dx":-4,"dy":3,"fontSize":18,"color":"black"},"encoding":{"x":{"value":"width"},"y":{"aggregate":"max","field":"d","type":"quantitative","title":null,"axis":{"orient":"right","values":[0.0125,0.0375,0.0625,0.0875],"labels":false,"ticks":false,"domain":false,"gridWidth":0.6}},"text":{"field":"p","type":"nominal"}}}]}
    ]},
    {"spacing": 18, "hconcat": [
     {"width":99,"height":141,"transform":[{"filter":"datum.sp=='b' && datum.p==34"},{"fold":["Trap Data","Fittted Model"],"as":["s","d"]}],"resolve":{"axis":{"y":"independent"}},"layer":[{"mark":{"type":"rect"},"encoding":{"x":{"field":"x0","type":"quantitative","title":null,"scale":{"domain":[-4.7,39.4],"nice":false,"zero":false},"axis":{"values":[0,5,10,15,20,25,30,35],"format":"d","labelOverlap":false,"labelExpr":"datum.value % 10 == 0 ? datum.label : ''","tickOpacity":{"condition":{"test":"datum.value % 10 != 0","value":0},"value":1},"gridWidth":{"condition":{"test":"datum.value % 10 != 0","value":0.6},"value":1.2}}},"x2":{"field":"x1"},"y":{"field":"d","type":"quantitative","title":null,"scale":{"domain":[-0.0041,0.0867],"nice":false,"zero":false},"axis":{"values":[0,0.02,0.04,0.06,0.08],"format":".2f","labelOverlap":false,"gridWidth":1.2}},"y2":{"datum":0},"color":{"field":"s","type":"nominal","title":null},"opacity":{"field":"s","type":"nominal","scale":{"domain":["Fittted Model","Trap Data"],"range":[0.55,0.9]},"legend":null}}},{"mark":{"type":"text","align":"right","baseline":"top","dx":-4,"dy":3,"fontSize":18,"color":"black"},"encoding":{"x":{"value":"width"},"y":{"aggregate":"max","field":"d","type":"quantitative","title":null,"axis":{"orient":"right","values":[0.01,0.03,0.05,0.07],"labels":false,"ticks":false,"domain":false,"gridWidth":0.6}},"text":{"field":"p","type":"nominal"}}}]},
     {"width":98,"height":141,"transform":[{"filter":"datum.sp=='b' && datum.p==35"},{"fold":["Trap Data","Fittted Model"],"as":["s","d"]}],"resolve":{"axis":{"y":"independent"}},"layer":[{"mark":{"type":"rect"},"encoding":{"x":{"field":"x0","type":"quantitative","title":null,"scale":{"domain":[-3.9,29],"nice":false,"zero":false},"axis":{"values":[0,5,10,15,20,25],"format":"d","labelOverlap":false,"labelExpr":"datum.value % 10 == 0 ? datum.label : ''","tickOpacity":{"condition":{"test":"datum.value % 10 != 0","value":0},"value":1},"gridWidth":{"condition":{"test":"datum.value % 10 != 0","value":0.6},"value":1.2}}},"x2":{"field":"x1"},"y":{"field":"d","type":"quantitative","title":null,"scale":{"domain":[-0.0042,0.0876],"nice":false,"zero":false},"axis":{"values":[0,0.02,0.04,0.06,0.08],"format":".2f","labelOverlap":false,"gridWidth":1.2}},"y2":{"datum":0},"color":{"field":"s","type":"nominal","title":null},"opacity":{"field":"s","type":"nominal","scale":{"domain":["Fittted Model","Trap Data"],"range":[0.55,0.9]},"legend":null}}},{"mark":{"type":"text","align":"right","baseline":"top","dx":-4,"dy":3,"fontSize":18,"color":"black"},"encoding":{"x":{"value":"width"},"y":{"aggregate":"max","field":"d","type":"quantitative","title":null,"axis":{"orient":"right","values":[0.01,0.03,0.05,0.07],"labels":false,"ticks":false,"domain":false,"gridWidth":0.6}},"text":{"field":"p","type":"nominal"}}}]}
    ]},
    {"spacing": 18, "hconcat": [
     {"width":99,"height":141,"transform":[{"filter":"datum.sp=='b' && datum.p==36"},{"fold":["Trap Data","Fittted Model"],"as":["s","d"]}],"resolve":{"axis":{"y":"independent"}},"layer":[{"mark":{"type":"rect"},"encoding":{"x":{"field":"x0","type":"quantitative","title":null,"scale":{"domain":[-6.5,95],"nice":false,"zero":false},"axis":{"values":[0,12.5,25,37.5,50,62.5,75,87.5],"format":"d","labelOverlap":false,"labelExpr":"datum.value % 25 == 0 ? datum.label : ''","tickOpacity":{"condition":{"test":"datum.value % 25 != 0","value":0},"value":1},"gridWidth":{"condition":{"test":"datum.value % 25 != 0","value":0.6},"value":1.2}}},"x2":{"field":"x1"},"y":{"field":"d","type":"quantitative","title":null,"scale":{"domain":[-0.00345,0.07245],"nice":false,"zero":false},"axis":{"values":[0,0.02,0.04,0.06],"format":".2f","labelOverlap":false,"gridWidth":1.2}},"y2":{"datum":0},"color":{"field":"s","type":"nominal","title":null},"opacity":{"field":"s","type":"nominal","scale":{"domain":["Fittted Model","Trap Data"],"range":[0.55,0.9]},"legend":null}}},{"mark":{"type":"text","align":"right","baseline":"top","dx":-4,"dy":3,"fontSize":18,"color":"black"},"encoding":{"x":{"value":"width"},"y":{"aggregate":"max","field":"d","type":"quantitative","title":null,"axis":{"orient":"right","values":[0.01,0.03,0.05,0.07],"labels":false,"ticks":false,"domain":false,"gridWidth":0.6}},"text":{"field":"p","type":"nominal"}}}]},
     {"width":93,"height":141,"transform":[{"filter":"datum.sp=='b' && datum.p==37"},{"fold":["Trap Data","Fittted Model"],"as":["s","d"]}],"resolve":{"axis":{"y":"independent"}},"layer":[{"mark":{"type":"rect"},"encoding":{"x":{"field":"x0","type":"quantitative","title":null,"scale":{"domain":[-4,28.7],"nice":false,"zero":false},"axis":{"values":[0,5,10,15,20,25],"format":"d","labelOverlap":false,"labelExpr":"datum.value % 10 == 0 ? datum.label : ''","tickOpacity":{"condition":{"test":"datum.value % 10 != 0","value":0},"value":1},"gridWidth":{"condition":{"test":"datum.value % 10 != 0","value":0.6},"value":1.2}}},"x2":{"field":"x1"},"y":{"field":"d","type":"quantitative","title":null,"scale":{"domain":[-0.005,0.105],"nice":false,"zero":false},"axis":{"values":[0,0.025,0.05,0.075,0.1],"format":".3f","labelOverlap":false,"gridWidth":1.2}},"y2":{"datum":0},"color":{"field":"s","type":"nominal","title":null},"opacity":{"field":"s","type":"nominal","scale":{"domain":["Fittted Model","Trap Data"],"range":[0.55,0.9]},"legend":null}}},{"mark":{"type":"text","align":"right","baseline":"top","dx":-4,"dy":3,"fontSize":18,"color":"black"},"encoding":{"x":{"value":"width"},"y":{"aggregate":"max","field":"d","type":"quantitative","title":null,"axis":{"orient":"right","values":[0.0125,0.0375,0.0625,0.0875],"labels":false,"ticks":false,"domain":false,"gridWidth":0.6}},"text":{"field":"p","type":"nominal"}}}]}
    ]}
   ]
  }]
 }]
}
],
"spacing": 4,
"config": {
 "font": "Liberation Sans",
 "view": {"fill": "#EBEBEB", "stroke": null},
 "axis": {"domain": false, "labelFont": "Liberation Sans", "labelFontSize": 14, "labelColor": "#4D4D4D", "tickColor": "#333333", "tickSize": 4, "tickWidth": 1.1, "gridColor": "#FFFFFF", "labelPadding": 2, "labelOverlap": false, "labelFlush": false},
 "axisX": {"labelAngle": 270},
 "range": {"category": ["#00BFC4", "#F8766D"]},
 "title": {"font": "Liberation Sans", "color": "black", "fontWeight": "normal"},
 "legend": {"orient": "bottom", "direction": "horizontal", "symbolType": "square", "symbolSize": 480, "symbolOpacity": 0.75, "labelFontSize": 21, "labelFont": "Liberation Sans", "labelColor": "black", "columnPadding": 10, "symbolStrokeWidth": 0, "labelOffset": 4, "offset": 8, "layout": {"bottom": {"anchor": "middle"}}}
}
}
